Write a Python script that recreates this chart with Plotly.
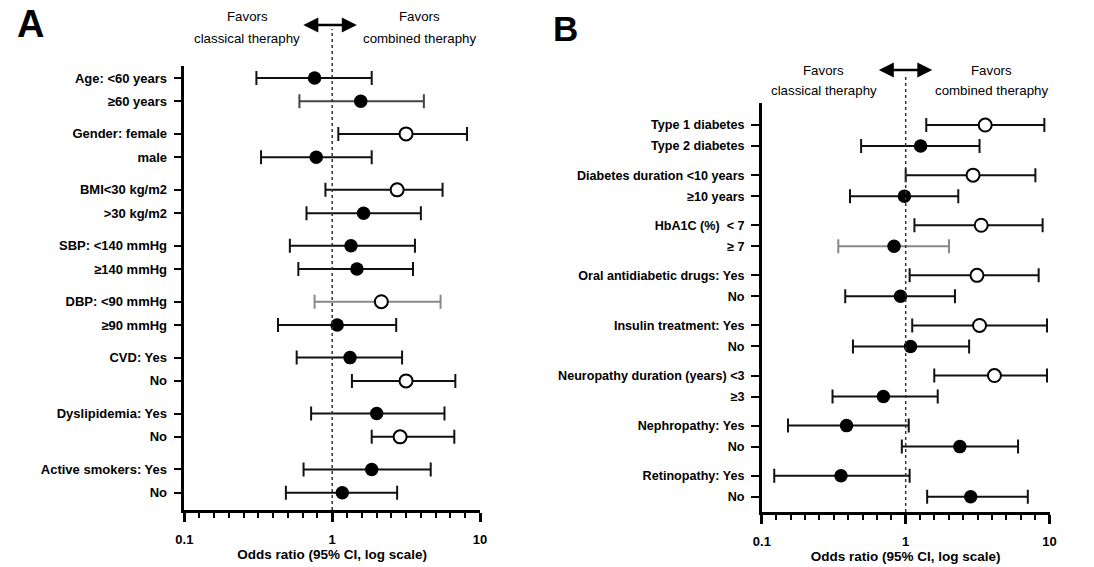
import plotly.graph_objects as go

# ---------------- data ----------------
a_labels = ["Age: <60 years", "≥60 years", "Gender: female", "male",
            "BMI<30 kg/m2", ">30 kg/m2", "SBP: <140 mmHg", "≥140 mmHg",
            "DBP: <90 mmHg", "≥90 mmHg", "CVD: Yes", "No",
            "Dyslipidemia: Yes", "No", "Active smokers: Yes", "No"]
a_or = [0.76, 1.56, 3.16, 0.78, 2.75, 1.63, 1.34, 1.47,
        2.15, 1.08, 1.32, 3.16, 2.00, 2.88, 1.85, 1.17]
a_lo = [0.307, 0.60, 1.10, 0.33, 0.90, 0.67, 0.517, 0.59,
        0.76, 0.43, 0.575, 1.36, 0.72, 1.85, 0.64, 0.486]
a_hi = [1.85, 4.17, 8.17, 1.85, 5.58, 3.98, 3.63, 3.52,
        5.41, 2.71, 2.97, 6.81, 5.75, 6.70, 4.64, 2.75]
a_open = [False, False, True, False, True, False, False, False,
          True, False, False, True, False, True, False, False]

b_labels = ["Type 1 diabetes", "Type 2 diabetes",
            "Diabetes duration <10 years", "≥10 years",
            "HbA1C (%)\u00a0 < 7", "≥ 7",
            "Oral antidiabetic drugs: Yes", "No",
            "Insulin treatment: Yes", "No",
            "Neuropathy duration (years) <3", "≥3",
            "Nephropathy: Yes", "No", "Retinopathy: Yes", "No"]
b_or = [3.57, 1.27, 2.94, 0.98, 3.35, 0.83, 3.13, 0.92,
        3.26, 1.08, 4.14, 0.70, 0.388, 2.38, 0.355, 2.83]
b_lo = [1.39, 0.49, 1.00, 0.41, 1.15, 0.34, 1.065, 0.38,
        1.11, 0.43, 1.58, 0.31, 0.152, 0.94, 0.122, 1.41]
b_hi = [9.2, 3.26, 7.97, 2.32, 8.95, 2.00, 8.4, 2.20,
        9.6, 2.76, 9.6, 1.67, 1.05, 6.04, 1.065, 7.06]
b_open = [True, False, True, False, True, False, True, False,
          True, False, True, False, False, False, False, False]

x_ticks = [0.1, 1, 10]
x_ticktext = ["0.1", "1", "10"]

# ---------------- styles ----------------
FONT = "Liberation Sans, Arial, sans-serif"
a_bar_color = ["#111"] * 16
a_bar_color[1] = "#444"
a_bar_color[8] = "#888"
b_bar_color = ["#111"] * 16
b_bar_color[5] = "#888"

W, H = 1094, 567


def px_x(p):
    return p / W


def px_y(p):
    return 1 - p / H


fig = go.Figure()


def add_panel(labels, ors, los, his, opens, colors, xa, ya, group_step):
    ypos = [(i // 2) * group_step + (i % 2) for i in range(len(labels))]
    for i in range(len(labels)):
        if opens[i]:
            mk = dict(symbol="circle", size=13, color="white",
                      line=dict(color="black", width=2))
        else:
            mk = dict(symbol="circle", size=13.5, color="black",
                      line=dict(color="black", width=0))
        fig.add_trace(go.Scatter(
            x=[ors[i]], y=[ypos[i]], mode="markers", marker=mk,
            xaxis=xa, yaxis=ya, showlegend=False, cliponaxis=False,
            error_x=dict(type="data", symmetric=False,
                         array=[his[i] - ors[i]],
                         arrayminus=[ors[i] - los[i]],
                         color=colors[i], thickness=2, width=7),
        ))
    return ypos


ya_pos = add_panel(a_labels, a_or, a_lo, a_hi, a_open, a_bar_color, "x", "y", 2.4)
yb_pos = add_panel(b_labels, b_or, b_lo, b_hi, b_open, b_bar_color, "x2", "y2", 2.386)

minor_vals = [10 ** (k / 10) for k in range(-10, 11) if k % 10 != 0]

xaxis_common = dict(
    type="log", range=[-1, 1], showline=True, linewidth=2.5, linecolor="black",
    showgrid=False, zeroline=False, ticks="outside", ticklen=9, tickwidth=2.5,
    tickcolor="black", tickvals=x_ticks, ticktext=x_ticktext,
    ticklabelstandoff=7,
    tickfont=dict(family=FONT, size=13, color="black", weight="bold"),
    title=dict(text="Odds ratio (95% CI, log scale)", standoff=3,
               font=dict(family=FONT, size=13.5, color="black", weight="bold")),
    minor=dict(tickvals=minor_vals, ticks="outside", ticklen=5, tickwidth=2,
               tickcolor="black", showgrid=False),
)


def yaxis_common(fs):
    return dict(
        showline=True, linewidth=2.5, linecolor="black", showgrid=False,
        zeroline=False, ticks="outside", ticklen=8, tickwidth=2, tickcolor="black",
        ticklabelstandoff=4,
        tickfont=dict(family=FONT, size=fs, color="black", weight="bold"),
    )


fig.update_layout(
    width=W, height=H, margin=dict(l=0, r=0, t=0, b=0),
    paper_bgcolor="white", plot_bgcolor="white",
    font=dict(family=FONT, color="black"),
    xaxis=dict(domain=[px_x(178), px_x(478)], anchor="y", **xaxis_common),
    xaxis2=dict(domain=[px_x(764), px_x(1056)], anchor="y2", **xaxis_common),
    yaxis=dict(domain=[px_y(510), px_y(66)], anchor="x", range=[18.54, -0.515],
               tickvals=ya_pos, ticktext=a_labels, **yaxis_common(13)),
    yaxis2=dict(domain=[px_y(512), px_y(103)], anchor="x2", range=[18.43, -1.05],
                tickvals=yb_pos, ticktext=b_labels, **yaxis_common(12.6)),
)

# dotted reference lines at OR = 1
fig.add_shape(type="line", xref="x domain", yref="paper", x0=0.5, x1=0.5,
              y0=px_y(510), y1=px_y(29), line=dict(color="#333", width=1.5, dash="dot"))
fig.add_shape(type="line", xref="x2 domain", yref="paper", x0=0.5, x1=0.5,
              y0=px_y(512), y1=px_y(76), line=dict(color="#333", width=1.5, dash="dot"))

# double-headed arrows
for (x_end, y_arr, length) in [(353, 25, 55), (937, 70, 55)]:
    fig.add_annotation(xref="paper", yref="paper", x=px_x(x_end), y=px_y(y_arr),
                       axref="pixel", ayref="pixel", ax=-length, ay=0, text="",
                       showarrow=True, arrowhead=2, startarrowhead=2,
                       arrowside="end+start", arrowwidth=2.5, arrowsize=1.2,
                       startarrowsize=1.2, arrowcolor="black", standoff=0,
                       startstandoff=0)

# favors texts
texts = [
    ("Favors", 242, 17), ("classical theraphy", 242, 38),
    ("Favors", 417, 17), ("combined theraphy", 417, 38),
    ("Favors", 827, 70), ("classical theraphy", 827, 90),
    ("Favors", 997, 70), ("combined theraphy", 997, 90),
]
for t, xp, yp in texts:
    fig.add_annotation(xref="paper", yref="paper", x=px_x(xp), y=px_y(yp),
                       text=t, showarrow=False, xanchor="center", yanchor="middle",
                       font=dict(family=FONT, size=13.3, color="black"))

# panel letters
fig.add_annotation(xref="paper", yref="paper", x=px_x(22), y=px_y(24), text="A",
                   showarrow=False, xanchor="center", yanchor="middle",
                   font=dict(family=FONT, size=38, color="black", weight="bold"))
fig.add_annotation(xref="paper", yref="paper", x=px_x(565), y=px_y(28), text="B",
                   showarrow=False, xanchor="center", yanchor="middle",
                   font=dict(family=FONT, size=35, color="black", weight="bold"))

fig.write_html("out.html", config={"displayModeBar": False},
               post_script="document.body.style.margin='0';")
